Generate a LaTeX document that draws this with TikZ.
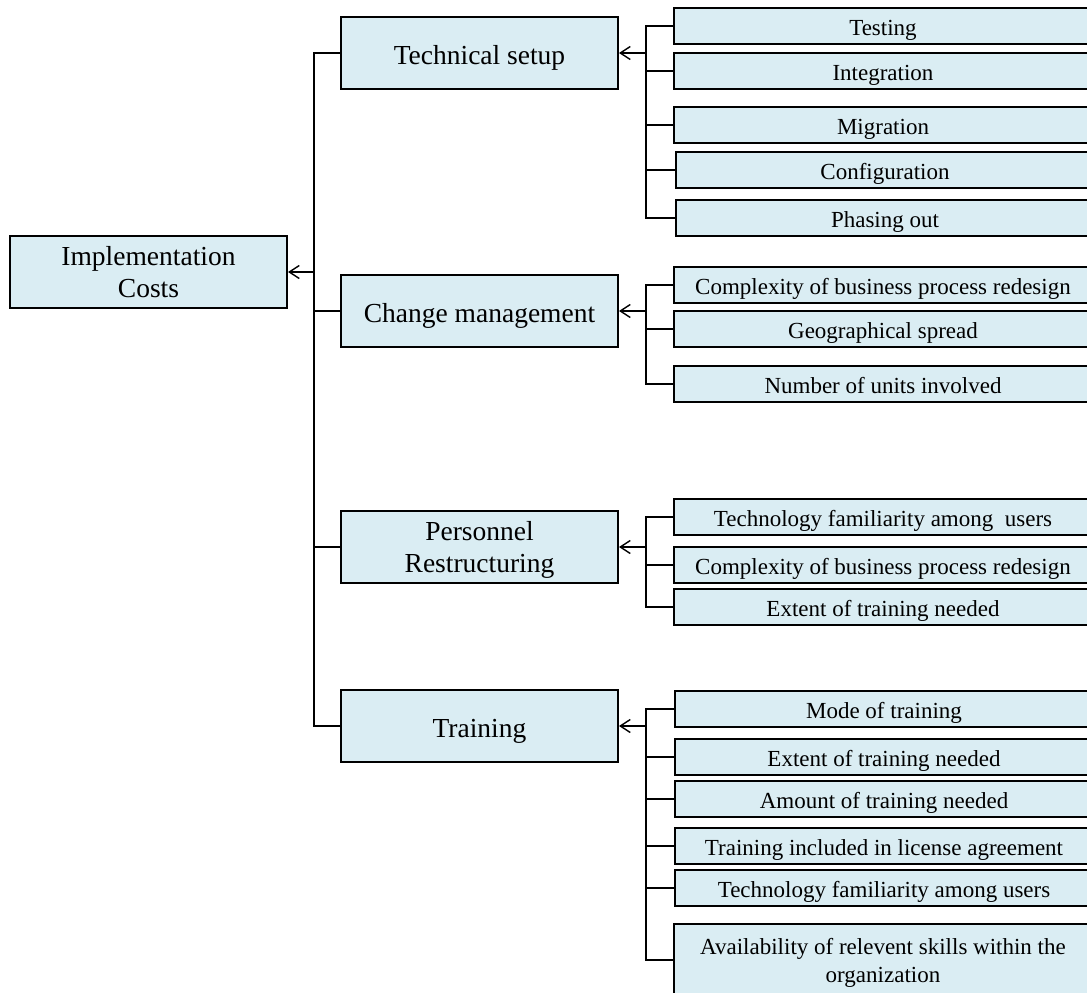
\documentclass[tikz,border=0pt]{standalone}
\usepackage{fontspec}
\setmainfont{Liberation Serif}
\usetikzlibrary{arrows.meta}
\definecolor{boxfill}{RGB}{218,237,243}
\tikzset{
  box/.style={draw=black, line width=2pt, fill=boxfill, inner sep=0pt, align=center, text=black, text depth=0pt},
  mainbox/.style={box, minimum width=277pt, minimum height=72pt, font=\fontsize{27.5}{32}\selectfont},
  mainone/.style={mainbox, text height=22pt},
  leaf/.style={box, anchor=west, minimum width=418pt, minimum height=36pt, font=\fontsize{23}{28}\selectfont},
  leafone/.style={leaf, text height=19pt},
  tallleaf/.style={leaf, minimum height=72pt},
  link/.style={draw=black, line width=1.4pt},
  feed/.style={link, -{Straight Barb[length=10pt, width=13pt, line width=1.4pt]}}
}
\begin{document}
\begin{tikzpicture}[x=1pt, y=-1pt]
\useasboundingbox (0,0) rectangle (1087,993);
\clip (0,0) rectangle (1087,993);

% root and the four cost groups
\node[mainbox] (root) at (148.5,272) {Implementation\\Costs};
\node[mainone] (ts) at (479.5,53)  {Technical setup};
\node[mainone] (cm) at (479.5,311) {Change management};
\node[mainbox] (pr) at (479.5,547) {Personnel\\Restructuring};
\node[mainone] (tr) at (479.5,726) {Training};

% technical setup factors
\node[leafone] (ts1) at (673,26)  {Testing};
\node[leafone] (ts2) at (673,71)  {Integration};
\node[leafone] (ts3) at (673,125) {Migration};
\node[leafone] (ts4) at (675,170) {Configuration};
\node[leafone] (ts5) at (675,218) {Phasing out};

% change management factors
\node[leafone] (cm1) at (673,285) {Complexity of business process redesign};
\node[leafone] (cm2) at (673,329) {Geographical spread};
\node[leafone] (cm3) at (673,384) {Number of units involved};

% personnel restructuring factors
\node[leafone] (pr1) at (673,517) {Technology familiarity among~ users};
\node[leafone] (pr2) at (673,565) {Complexity of business process redesign};
\node[leafone] (pr3) at (673,607) {Extent of training needed};

% training factors
\node[leafone] (tr1) at (674,709) {Mode of training};
\node[leafone] (tr2) at (674,757) {Extent of training needed};
\node[leafone] (tr3) at (674,799) {Amount of training needed};
\node[leafone] (tr4) at (674,846) {Training included in license agreement};
\node[leafone] (tr5) at (674,888) {Technology familiarity among users};
\node[tallleaf] (tr6) at (673,960) {Availability of relevent skills within the\\organization};

% trunk joining the groups to the root
\coordinate (trunk) at (314,0);
\path[link] (ts.west) -- (trunk |- ts.west) -- (trunk |- tr.west) -- (tr.west);
\path[link] (trunk |- cm.west) -- (cm.west);
\path[link] (trunk |- pr.west) -- (pr.west);
\path[feed] (trunk |- root.east) -- (root.east);

% buses joining factors to their group
\coordinate (bus) at (646,0);

\path[link] (ts1.west) -- (bus |- ts1.west) -- (bus |- ts5.west) -- (ts5.west);
\foreach \n in {ts2,ts3,ts4} \path[link] (bus |- \n.west) -- (\n.west);
\path[feed] (bus |- ts.east) -- (ts.east);

\path[link] (cm1.west) -- (bus |- cm1.west) -- (bus |- cm3.west) -- (cm3.west);
\path[link] (bus |- cm2.west) -- (cm2.west);
\path[feed] (bus |- cm.east) -- (cm.east);

\path[link] (pr1.west) -- (bus |- pr1.west) -- (bus |- pr3.west) -- (pr3.west);
\path[link] (bus |- pr2.west) -- (pr2.west);
\path[feed] (bus |- pr.east) -- (pr.east);

\path[link] (tr1.west) -- (bus |- tr1.west) -- (bus |- tr6.west) -- (tr6.west);
\foreach \n in {tr2,tr3,tr4,tr5} \path[link] (bus |- \n.west) -- (\n.west);
\path[feed] (bus |- tr.east) -- (tr.east);
\end{tikzpicture}
\end{document}
